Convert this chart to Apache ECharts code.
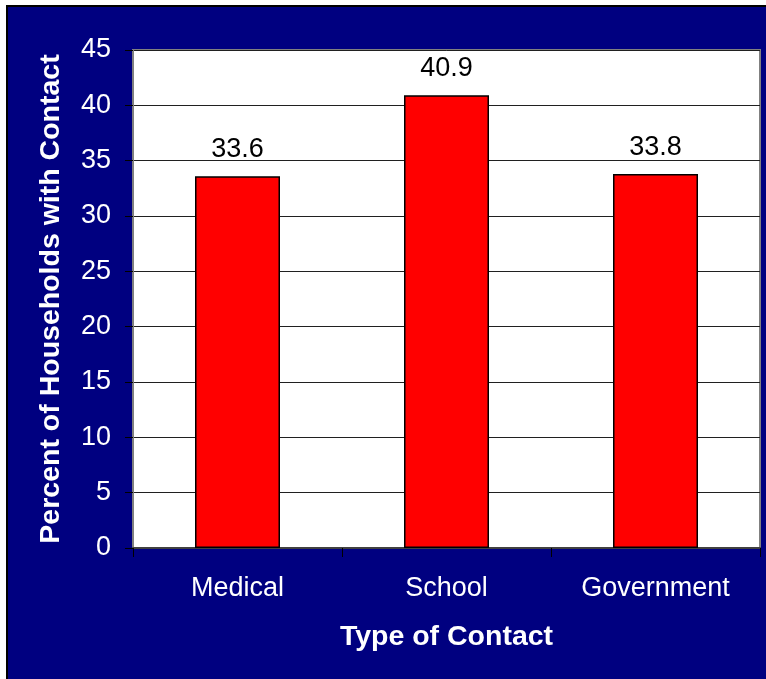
<!DOCTYPE html>
<html><head><meta charset="utf-8">
<style>html,body{margin:0;padding:0;background:#fff;}#c{width:766px;height:679px;}</style>
<script src="https://cdn.jsdelivr.net/npm/echarts@6/dist/echarts.min.js"></script>
</head><body><div id="c"></div>
<script>
var categories = ["Medical", "School", "Government"];
var values = [33.6, 40.9, 33.8];
var yTicks = [0, 5, 10, 15, 20, 25, 30, 35, 40, 45];

var F = '"Liberation Sans", Arial, sans-serif';
var chart = echarts.init(document.getElementById('c'));
chart.setOption({
  animation: false,
  backgroundColor: '#fff',
  graphic: [{
    type: 'rect', z: -10, silent: true,
    shape: {x: 7, y: 6, width: 800, height: 700},
    style: {fill: '#000080', stroke: '#000', lineWidth: 2}
  }],
  grid: {left: 133, top: 50, width: 627, height: 498, show: true,
         backgroundColor: '#fff', borderColor: '#808080', borderWidth: 2},
  xAxis: {
    type: 'category', data: categories,
    name: 'Type of Contact', nameLocation: 'middle', nameGap: 75,
    nameTextStyle: {color: '#fff', fontFamily: F, fontWeight: 'bold', fontSize: 28.5},
    axisLine: {lineStyle: {color: '#404040', width: 2}},
    axisTick: {show: true, length: 9, lineStyle: {color: '#000'}},
    axisLabel: {color: '#fff', fontFamily: F, fontSize: 27, margin: 27}
  },
  yAxis: {
    type: 'value', min: yTicks[0], max: yTicks[yTicks.length - 1], interval: 5,
    name: 'Percent of Households with Contact', nameLocation: 'middle', nameGap: 67,
    nameTextStyle: {color: '#fff', fontFamily: F, fontWeight: 'bold', fontSize: 28.5},
    axisLine: {show: true, lineStyle: {color: '#808080', width: 1}},
    axisTick: {show: true, length: 8, lineStyle: {color: '#000'}},
    axisLabel: {color: '#fff', fontFamily: F, fontSize: 27, margin: 22, padding: [5, 0, 0, 0]},
    splitLine: {show: true, lineStyle: {color: '#202020', width: 1}}
  },
  series: [{
    type: 'bar', data: values, barWidth: 85,
    itemStyle: {color: '#ff0000', borderColor: '#000', borderWidth: 1.5},
    label: {show: true, position: 'top', distance: 13, color: '#000',
            fontFamily: F, fontSize: 27}
  }]
});
</script></body></html>
